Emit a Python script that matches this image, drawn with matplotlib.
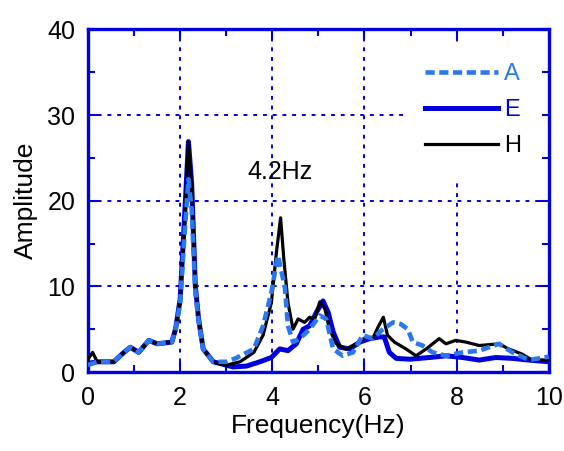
import numpy as np
import matplotlib.pyplot as plt
from matplotlib.ticker import MultipleLocator

# Espectros de amplitude (lidos ponto a ponto)
freq_H = [0.0, 0.1, 0.2, 0.56, 0.78, 0.92, 1.1, 1.32, 1.5, 1.82, 1.9, 2.0, 2.1, 2.18,
          2.25, 2.33, 2.4, 2.5, 2.72, 3.0, 3.3, 3.6, 3.8, 3.98, 4.09, 4.18, 4.25, 4.34,
          4.45, 4.56, 4.7, 4.81, 4.92, 5.03, 5.14, 5.24, 5.39, 5.6, 5.82, 6.04, 6.18,
          6.29, 6.41, 6.5, 6.65, 6.9, 7.12, 7.34, 7.62, 7.77, 7.98, 8.2, 8.49, 8.92,
          9.13, 9.42, 9.64, 10.0]
amp_H = [1.5, 2.3, 1.2, 1.2, 2.3, 2.9, 2.3, 3.7, 3.3, 3.5, 5.0, 8.1, 17.8, 26.9,
         21.7, 10.0, 6.2, 2.7, 1.2, 0.8, 1.2, 2.3, 4.3, 8.1, 14.0, 18.0, 13.2, 8.1,
         5.0, 6.2, 5.8, 6.4, 6.2, 8.2, 7.4, 5.0, 3.3, 2.7, 3.3, 4.1, 3.9,
         5.2, 6.4, 4.3, 3.5, 2.7, 1.9, 2.7, 3.9, 3.3, 3.7, 3.5, 3.1, 3.3,
         2.7, 2.1, 1.4, 1.4]

freq_E = [0.0, 0.2, 0.56, 0.78, 0.92, 1.1, 1.32, 1.5, 1.82, 1.9, 2.0, 2.1, 2.18,
          2.25, 2.33, 2.4, 2.5, 2.72, 3.15, 3.44, 3.73, 3.98, 4.16, 4.34, 4.52, 4.67,
          4.81, 4.96, 5.1, 5.21, 5.32, 5.46, 5.68, 5.9, 6.11, 6.33, 6.43, 6.54, 6.69,
          6.98, 7.41, 7.77, 8.13, 8.49, 8.85, 9.21, 9.57, 10.0]
amp_E = [1.0, 1.2, 1.2, 2.3, 2.9, 2.3, 3.7, 3.3, 3.5, 5.0, 8.5, 18.5, 26.9,
         22.0, 10.0, 6.2, 2.7, 1.2, 0.6, 0.7, 1.2, 1.7, 2.7, 2.5, 3.3, 5.0,
         5.4, 7.0, 8.3, 7.0, 4.7, 2.9, 2.7, 3.5, 3.9, 4.1, 4.1, 2.3, 1.6,
         1.5, 1.7, 1.9, 1.7, 1.4, 1.7, 1.6, 1.4, 1.2]

freq_A = [0.0, 0.2, 0.56, 0.78, 0.92, 1.1, 1.32, 1.5, 1.82, 1.9, 2.0, 2.1, 2.18,
          2.25, 2.33, 2.4, 2.5, 2.72, 3.0, 3.2, 3.6, 3.8, 3.98, 4.12, 4.27, 4.34,
          4.45, 4.6, 4.81, 5.03, 5.17, 5.32, 5.53, 5.75, 5.96, 6.18, 6.4, 6.62, 6.79,
          6.94, 7.05, 7.26, 7.48, 7.77, 8.13, 8.49, 8.92, 9.21, 9.57, 10.0]
amp_A = [0.8, 1.2, 1.2, 2.3, 2.9, 2.3, 3.7, 3.3, 3.5, 5.0, 8.0, 16.5, 22.5,
         19.0, 9.5, 6.0, 2.7, 1.2, 1.2, 1.6, 2.7, 5.4, 9.3, 13.6, 10.0, 5.4,
         3.5, 3.9, 5.0, 6.6, 6.2, 2.7, 1.9, 2.3, 4.3, 3.9, 5.0, 5.8, 5.6,
         5.0, 3.5, 3.1, 2.3, 1.9, 2.3, 2.5, 3.3, 2.3, 1.4, 1.8]

azul = '#0000dd'
azul_claro = '#2a78f0'
plt.rcParams['font.family'] = ['Liberation Sans', 'DejaVu Sans']

fig = plt.figure(figsize=(5.64, 4.51), dpi=100)
ax = fig.add_axes([0.156, 0.175, 0.817, 0.760])

ax.plot(freq_E, amp_E, color=azul, lw=3.6, label='E', zorder=3)
ax.plot(freq_H, amp_H, color='black', lw=2.3, label='H', zorder=4)
ax.plot(freq_A, amp_A, color=azul_claro, lw=3.3, ls=(0, (2.0, 1.0)), label='A', zorder=5)

ax.set_xlim(0, 10)
ax.set_ylim(0, 40)
ax.xaxis.set_major_locator(MultipleLocator(2))
ax.xaxis.set_minor_locator(MultipleLocator(1))
ax.yaxis.set_major_locator(MultipleLocator(10))
ax.yaxis.set_minor_locator(MultipleLocator(5))
ax.tick_params(which='both', direction='in', top=True, right=True, color=azul,
               labelsize=18)
ax.tick_params(axis='x', pad=10)
ax.tick_params(axis='y', pad=9)
ax.tick_params(which='major', length=7, width=1.5)
ax.tick_params(which='minor', length=5, width=1.5)
ax.grid(True, which='major', color=azul, ls=(0, (2, 3)), lw=1.4)
for s in ax.spines.values():
    s.set_color(azul)
    s.set_linewidth(2.4)

ax.set_xlabel('Frequency(Hz)', fontsize=19, labelpad=3)
ax.set_ylabel('Amplitude', fontsize=19, labelpad=7)
ax.text(4.17, 23.3, '4.2Hz', fontsize=18, ha='center', va='center')

# legenda na ordem A, E, H
h, l = ax.get_legend_handles_labels()
ordem = [l.index(k) for k in ['A', 'E', 'H']]
leg = ax.legend([h[i] for i in ordem], [l[i] for i in ordem], loc='upper right',
                frameon=True, framealpha=1, edgecolor='white', fontsize=17,
                handlelength=3.1, handletextpad=0.25, labelspacing=0.6,
                bbox_to_anchor=(0.986, 0.964), borderpad=0.9, borderaxespad=0)
leg.get_frame().set_linewidth(0)
for txt, c in zip(leg.get_texts(), [azul_claro, azul, 'black']):
    txt.set_color(c)

fig.savefig('out.png', dpi=100)
